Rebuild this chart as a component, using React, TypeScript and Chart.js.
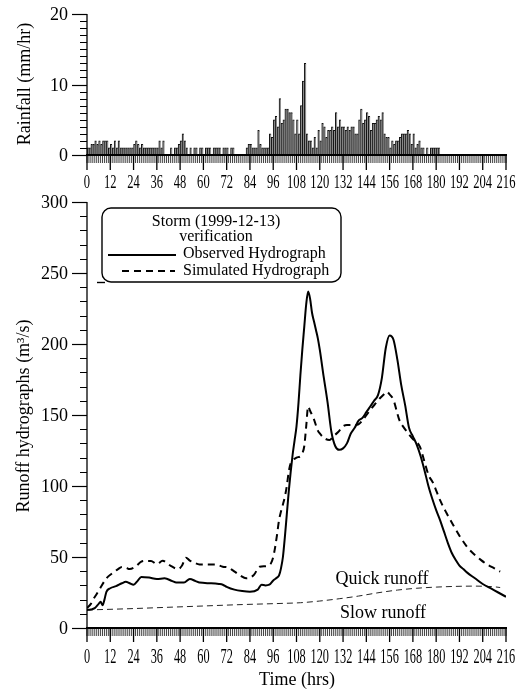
import React, { useEffect, useRef } from "react";
import { Chart, registerables } from "chart.js";

Chart.register(...registerables);

// ---------------- DATA ----------------
// Hourly rainfall (mm/hr), index = hour 0..215
const rainfall: number[] = [
  1, 1, 1.5, 1.5, 2, 1.5, 2, 1.5, 2, 2, 2, 1, 1.5, 1, 2, 1, 2, 1, 1, 1,
  1, 1, 1, 1, 1.5, 2, 1.5, 1, 1.5, 1, 1, 1, 1, 1, 1, 1, 1, 2, 1, 2,
  0, 0, 0, 1, 0, 1, 1, 1.5, 2, 3, 2, 1, 0, 1, 0, 1, 1, 0, 1, 1,
  0, 1, 1, 1, 0, 1, 1, 1, 1, 0, 1, 1, 1, 0, 1, 1, 0, 0, 0, 0,
  0, 0, 1, 1.5, 1.5, 1, 1, 1, 3.5, 1.5, 1, 1, 1, 1, 3, 2.5, 5, 5.5, 4, 8,
  4.5, 5, 6.5, 6.5, 6, 6, 5, 3, 5, 3, 7, 10.5, 13, 3, 2, 2, 1, 2.5, 1, 3.5,
  2, 4.5, 4, 2.5, 3.5, 3.5, 4, 3.5, 6, 4, 5, 4, 4, 3.5, 4, 3.5, 4, 4, 3, 3,
  5, 6.5, 4.5, 5, 6, 5.5, 3.5, 4.5, 4.5, 5, 5.5, 5, 6, 3, 2.5, 2.5, 1, 2, 1.5, 2,
  2, 2.5, 3, 3, 3, 3.5, 3, 1.5, 3, 1, 1.5, 2, 1, 1, 0, 1, 0, 1, 1, 1,
  1, 1, 0, 0, 0, 0, 0, 0, 0, 0, 0, 0, 0, 0, 0, 0, 0, 0, 0, 0,
  0, 0, 0, 0, 0, 0, 0, 0, 0, 0, 0, 0, 0, 0, 0, 0,
];

const obsHours: number[] = [
  0, 2, 4, 6, 7, 8, 9, 10, 12, 15, 18, 20, 22, 24, 26, 28, 32, 36, 40, 44, 46, 50, 53, 56, 58, 64,
  68, 70, 72, 76, 80, 84, 88, 90, 92, 94, 96, 98, 99, 100, 101, 102, 103, 104, 105, 106, 107, 108,
  109, 110, 111, 112, 113, 114, 115, 116, 117, 118, 119, 120, 122, 124, 126, 128, 130, 132, 134,
  136, 138, 140, 142, 144, 146, 148, 150, 152, 154, 156, 158, 160, 162, 164, 166, 168, 170, 172,
  174, 176, 178, 180, 182, 184, 186, 188, 190, 192, 194, 196, 200, 204, 208, 212, 216,
];
const obsFlow: number[] = [
  12.7, 13, 14, 17, 18.5, 16, 20, 25.5, 28, 29.5, 31.5, 32.5, 31.5, 30.5, 33, 36, 35.5, 34.5, 35, 33, 32, 32, 34.5, 33, 32, 31.5,
  31, 30.5, 29, 27, 26, 25.5, 27, 30.5, 30, 30.5, 33.5, 35.5, 37, 42, 50, 64, 80, 96, 110, 122, 132, 142,
  158, 178, 196, 212, 228, 237, 232, 222, 216, 210, 204, 196, 177, 159, 138, 128, 125.5, 126.5, 130,
  137, 141, 146, 148, 152, 156, 160, 164, 176, 197, 206, 203, 189, 171, 157, 141, 135, 129, 121,
  111, 100, 91, 83, 76, 68, 60, 53, 48, 44, 41.5, 39, 35, 31, 28, 25, 22,
];

const simHours: number[] = [
  0, 2, 3, 5, 7, 10, 13, 16, 18, 20, 22, 25, 28, 30, 33, 36, 39, 43, 47, 49, 51, 53, 55, 58, 62, 66,
  70, 73, 75, 79, 82, 86, 89, 92, 94, 95, 96, 97, 98, 99, 100, 101, 102, 103, 104, 105, 106, 108,
  110, 111, 112, 113, 114, 115, 117, 119, 120, 122, 125, 127, 129.5, 132, 134, 137, 140, 143, 146,
  149, 151, 153, 154.5, 156, 158, 160, 161, 163, 165.6, 168, 171.6, 174, 176, 178.5, 182, 185.4,
  189, 192.3, 196, 199, 203, 206, 210, 213,
];
const simFlow: number[] = [
  14, 17, 19.7, 24, 28.5, 35, 38.5, 41.5, 43, 42.5, 41.5, 43.2, 46.7, 47.2, 47.2, 45, 47.4, 43.9, 41.5, 44, 49.5, 47.5, 46.2, 44.8, 44.8, 44.8,
  43.2, 42.5, 40.8, 37, 35, 37.3, 43.2, 43.5, 44.4, 46, 50, 57, 66, 76, 82, 87, 92.5, 100, 110, 116, 118, 120,
  121, 123, 128, 142, 156, 153, 147, 139, 137, 134, 132.4, 135, 138, 142, 143, 143, 143.5, 148, 153.5,
  158.5, 161.8, 164.5, 166.4, 164.5, 160.6, 151, 146.5, 141.8, 137, 133, 127.7, 117, 108, 101.9, 90, 80.8,
  72, 64.3, 57, 52.6, 48, 45, 42, 39.7,
];

const slowHours: number[] = [0, 20, 40, 60, 80, 100, 110, 120, 130, 140, 150, 160, 170, 180, 190, 200, 210, 213];
const slowFlow: number[] = [12.7, 13.5, 14.5, 15.5, 16.5, 17.3, 17.8, 19, 20.6, 22.5, 24.8, 26.7, 28, 28.8, 29.3, 29.5, 29, 28.5];

const xMajorTicks: number[] = [0, 12, 24, 36, 48, 60, 72, 84, 96, 108, 120, 132, 144, 156, 168, 180, 192, 204, 216];
const rainYTicks: number[] = [0, 10, 20];
const flowYTicks: number[] = [0, 50, 100, 150, 200, 250, 300];

const SERIF = '"Liberation Serif", "Times New Roman", serif';
const TOP_H = 194;
const BOT_H = 497;

function drawCondensed(ctx: CanvasRenderingContext2D, text: string, x: number, y: number, size: number, sx: number) {
  ctx.save();
  ctx.translate(x, y);
  ctx.scale(sx, 1);
  ctx.font = `${size}px ${SERIF}`;
  ctx.textAlign = "center";
  ctx.textBaseline = "middle";
  ctx.fillText(text, 0, 0);
  ctx.restore();
}

function drawXAxis(ctx: CanvasRenderingContext2D, x: any, y0: number, minorLen: number, majorLen: number, labelY: number, size: number, sx: number) {
  const xs = x.getPixelForValue(0);
  const xe = x.getPixelForValue(216);
  ctx.strokeStyle = "#444";
  ctx.lineWidth = 1;
  for (let h = 0; h <= 216; h++) {
    const px = x.getPixelForValue(h);
    ctx.beginPath();
    ctx.moveTo(px, y0);
    ctx.lineTo(px, y0 + minorLen);
    ctx.stroke();
  }
  ctx.strokeStyle = "#000";
  ctx.lineWidth = 1.3;
  for (const t of xMajorTicks) {
    const px = x.getPixelForValue(t);
    ctx.beginPath();
    ctx.moveTo(px, y0);
    ctx.lineTo(px, y0 + majorLen);
    ctx.stroke();
  }
  ctx.lineWidth = 2;
  ctx.beginPath();
  ctx.moveTo(xs - 1, y0);
  ctx.lineTo(xe + 1, y0);
  ctx.stroke();
  ctx.fillStyle = "#000";
  for (const t of xMajorTicks) {
    drawCondensed(ctx, String(t), x.getPixelForValue(t), labelY, size, sx);
  }
}

function drawYAxis(ctx: CanvasRenderingContext2D, y: any, xAxis: number, ymin: number, ymax: number, minorStep: number, majors: number[]) {
  ctx.strokeStyle = "#000";
  ctx.lineWidth = 1.3;
  ctx.beginPath();
  ctx.moveTo(xAxis, y.getPixelForValue(ymin));
  ctx.lineTo(xAxis, y.getPixelForValue(ymax));
  ctx.stroke();
  ctx.lineWidth = 1;
  for (let v = ymin; v <= ymax + 1e-9; v += minorStep) {
    const py = Math.round(y.getPixelForValue(v)) + 0.5;
    ctx.beginPath();
    ctx.moveTo(xAxis - 7, py);
    ctx.lineTo(xAxis, py);
    ctx.stroke();
  }
  ctx.lineWidth = 1.2;
  ctx.fillStyle = "#000";
  ctx.font = `18px ${SERIF}`;
  ctx.textAlign = "right";
  ctx.textBaseline = "middle";
  for (const t of majors) {
    const py = Math.round(y.getPixelForValue(t)) + 0.5;
    ctx.beginPath();
    ctx.moveTo(xAxis - 15, py);
    ctx.lineTo(xAxis, py);
    ctx.stroke();
    ctx.fillText(String(t), xAxis - 19, py + 1);
  }
}

function drawRotated(ctx: CanvasRenderingContext2D, text: string, cx: number, cy: number, size: number) {
  ctx.save();
  ctx.translate(cx, cy);
  ctx.rotate(-Math.PI / 2);
  ctx.font = `${size}px ${SERIF}`;
  ctx.textAlign = "center";
  ctx.textBaseline = "middle";
  ctx.fillStyle = "#000";
  ctx.fillText(text, 0, 0);
  ctx.restore();
}

const topAxesPlugin = {
  id: "topAxes",
  afterDatasetsDraw(chart: any) {
    const { ctx, scales } = chart;
    const x = scales.x;
    const y = scales.y;
    ctx.save();
    const y0 = y.getPixelForValue(0);
    drawYAxis(ctx, y, x.getPixelForValue(0), 0, 20, 1, rainYTicks);
    drawXAxis(ctx, x, y0, 8, 15, 183, 19, 0.66);
    drawRotated(ctx, "Rainfall (mm/hr)", 25, 84, 18);
    ctx.restore();
  },
};

const bottomAxesPlugin = {
  id: "bottomAxes",
  afterDatasetsDraw(chart: any) {
    const { ctx, scales } = chart;
    const x = scales.x;
    const y = scales.y;
    const off = TOP_H;
    ctx.save();
    drawYAxis(ctx, y, x.getPixelForValue(0), 0, 300, 10, flowYTicks);
    drawXAxis(ctx, x, y.getPixelForValue(0), 8, 14, 657.5 - off, 22, 0.56);
    ctx.fillStyle = "#000";
    ctx.font = `18px ${SERIF}`;
    ctx.textAlign = "center";
    ctx.textBaseline = "middle";
    ctx.fillText("Time (hrs)", 297, 680 - off);
    drawRotated(ctx, "Runoff hydrographs (m³/s)", 24, 416 - off, 18);

    ctx.font = `18px ${SERIF}`;
    ctx.textAlign = "center";
    ctx.fillText("Quick runoff", 382, 579 - off);
    ctx.fillText("Slow runoff", 383, 613 - off);

    // legend box
    const bx = 102, by = 208 - off, bw = 239, bh = 74, r = 9;
    ctx.strokeStyle = "#000";
    ctx.lineWidth = 1.4;
    ctx.beginPath();
    ctx.moveTo(bx + r, by);
    ctx.lineTo(bx + bw - r, by);
    ctx.arcTo(bx + bw, by, bx + bw, by + r, r);
    ctx.lineTo(bx + bw, by + bh - r);
    ctx.arcTo(bx + bw, by + bh, bx + bw - r, by + bh, r);
    ctx.lineTo(bx + r, by + bh);
    ctx.arcTo(bx, by + bh, bx, by + bh - r, r);
    ctx.lineTo(bx, by + r);
    ctx.arcTo(bx, by, bx + r, by, r);
    ctx.closePath();
    ctx.stroke();
    ctx.beginPath();
    ctx.moveTo(97, 282.5 - off);
    ctx.lineTo(105, 282.5 - off);
    ctx.stroke();

    ctx.font = `16px ${SERIF}`;
    ctx.textAlign = "center";
    ctx.fillText("Storm (1999-12-13)", 216, 222 - off);
    ctx.fillText("verification", 216, 237 - off);
    ctx.textAlign = "left";
    ctx.fillText("Observed Hydrograph", 183, 254 - off);
    ctx.fillText("Simulated Hydrograph", 183, 271 - off);
    ctx.lineWidth = 2;
    ctx.beginPath();
    ctx.moveTo(108, 255 - off);
    ctx.lineTo(176, 255 - off);
    ctx.stroke();
    ctx.setLineDash([7, 5]);
    ctx.beginPath();
    ctx.moveTo(122, 271 - off);
    ctx.lineTo(175, 271 - off);
    ctx.stroke();
    ctx.setLineDash([]);
    ctx.restore();
  },
};

function toPoints(xs: number[], ys: number[]) {
  return xs.map((h, i) => ({ x: h, y: ys[i] }));
}

export default function App() {
  const topRef = useRef<HTMLCanvasElement | null>(null);
  const botRef = useRef<HTMLCanvasElement | null>(null);

  useEffect(() => {
    if (!topRef.current || !botRef.current) return;
    const top = new Chart(topRef.current, {
      type: "bar",
      data: {
        datasets: [
          {
            data: rainfall.map((v, h) => ({ x: h + 0.5, y: v })),
            backgroundColor: "#8c8c8c",
            borderColor: "#111",
            borderWidth: { left: 1, top: 1, right: 0, bottom: 0 },
            borderSkipped: false,
            barPercentage: 1,
            categoryPercentage: 1,
          } as any,
        ],
      },
      options: {
        animation: false,
        responsive: false,
        maintainAspectRatio: false,
        layout: { padding: { left: 87, right: 25, top: 14, bottom: TOP_H - 155 } },
        scales: {
          x: { type: "linear", min: 0, max: 216, display: false, offset: false },
          y: { min: 0, max: 20, display: false },
        },
        plugins: { legend: { display: false }, tooltip: { enabled: false } },
      },
      plugins: [topAxesPlugin],
    } as any);

    const bottom = new Chart(botRef.current, {
      type: "line",
      data: {
        datasets: [
          {
            label: "Observed Hydrograph",
            data: toPoints(obsHours, obsFlow),
            borderColor: "#000",
            borderWidth: 2,
            pointRadius: 0,
            cubicInterpolationMode: "monotone",
            fill: false,
          },
          {
            label: "Simulated Hydrograph",
            data: toPoints(simHours, simFlow),
            borderColor: "#000",
            borderWidth: 2,
            borderDash: [7, 5],
            pointRadius: 0,
            cubicInterpolationMode: "monotone",
            fill: false,
          },
          {
            label: "Slow runoff",
            data: toPoints(slowHours, slowFlow),
            borderColor: "#222",
            borderWidth: 1,
            borderDash: [6, 4],
            pointRadius: 0,
            cubicInterpolationMode: "monotone",
            fill: false,
          },
        ],
      },
      options: {
        animation: false,
        responsive: false,
        maintainAspectRatio: false,
        layout: { padding: { left: 87, right: 25, top: 202 - TOP_H, bottom: BOT_H - (628 - TOP_H) } },
        scales: {
          x: { type: "linear", min: 0, max: 216, display: false },
          y: { min: 0, max: 300, display: false },
        },
        plugins: { legend: { display: false }, tooltip: { enabled: false } },
      },
      plugins: [bottomAxesPlugin],
    } as any);

    return () => {
      top.destroy();
      bottom.destroy();
    };
  }, []);

  return (
    <div style={{ position: "absolute", left: 0, top: 0, width: 531, height: 691, background: "#fff" }}>
      <canvas ref={topRef} width={531} height={TOP_H} style={{ position: "absolute", left: 0, top: 0, display: "block" }} />
      <canvas ref={botRef} width={531} height={BOT_H} style={{ position: "absolute", left: 0, top: TOP_H, display: "block" }} />
    </div>
  );
}
